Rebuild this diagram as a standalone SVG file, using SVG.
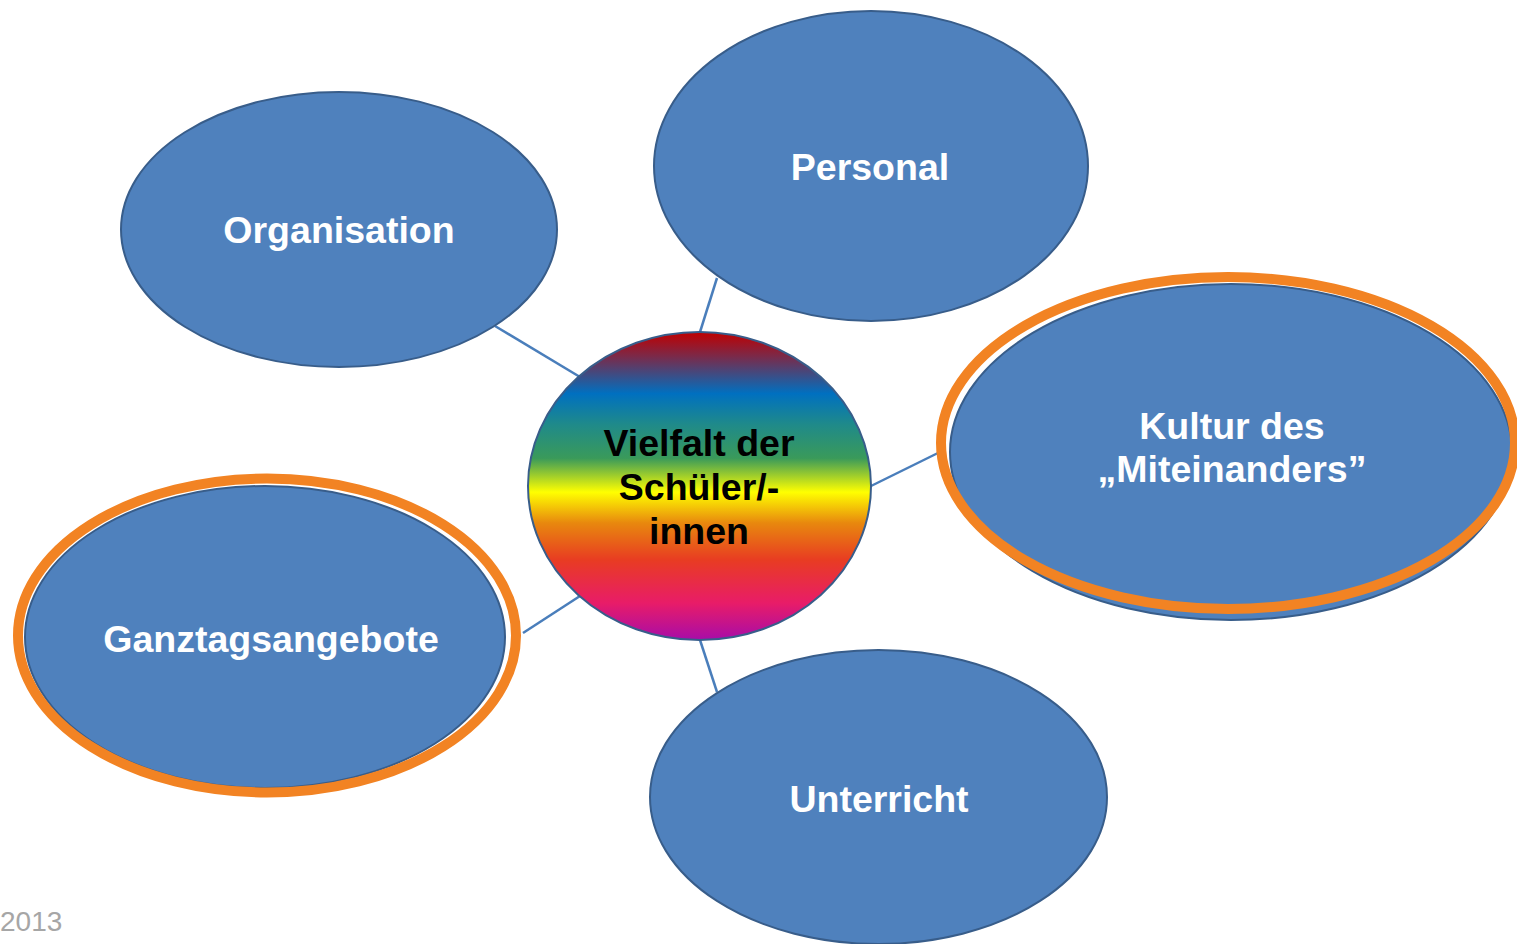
<svg xmlns="http://www.w3.org/2000/svg" width="1517" height="944" viewBox="0 0 1517 944">
<style>
.node{fill:#4f81bd;stroke:#385d8a;stroke-width:2}
.ring{fill:none;stroke:#f28323;stroke-width:10}
.lbl{font-family:"Liberation Sans",Arial,sans-serif;font-weight:bold;font-size:37.5px;fill:#ffffff;text-anchor:middle}
.ctr{fill:#000000}
.conn line{stroke:#4a7ebb;stroke-width:2.5}
</style>
<defs>
<linearGradient id="rainbow" x1="0" y1="0" x2="0" y2="1">
<stop offset="0" stop-color="#c00000"/>
<stop offset="0.08" stop-color="#7a2a4a"/>
<stop offset="0.2" stop-color="#0070c0"/>
<stop offset="0.3" stop-color="#1f8a8a"/>
<stop offset="0.41" stop-color="#3a9a5a"/>
<stop offset="0.52" stop-color="#ffff00"/>
<stop offset="0.62" stop-color="#e8880e"/>
<stop offset="0.74" stop-color="#e83c22"/>
<stop offset="0.88" stop-color="#e81c68"/>
<stop offset="1" stop-color="#a80ca8"/>
</linearGradient>
</defs>
<rect width="1517" height="944" fill="#ffffff"/>
<g id="connectors" class="conn">
<line x1="495" y1="326" x2="580" y2="377"/>
<line x1="717" y1="278" x2="700" y2="332"/>
<line x1="871" y1="486" x2="942" y2="451"/>
<line x1="523" y1="633" x2="580" y2="596"/>
<line x1="700" y1="640" x2="717" y2="692"/>
</g>
<g id="organisation">
<ellipse class="node" cx="339" cy="229.5" rx="218" ry="137.5"/>
<text class="lbl" x="339" y="243">Organisation</text>
</g>
<g id="personal">
<ellipse class="node" cx="871" cy="166" rx="217" ry="155"/>
<text class="lbl" x="870" y="180">Personal</text>
</g>
<g id="kultur">
<ellipse class="node" cx="1231" cy="452" rx="281" ry="168"/>
<ellipse class="ring" cx="1228" cy="443" rx="287" ry="166"/>
<text class="lbl" x="1232" y="439">Kultur des</text>
<text class="lbl" x="1232" y="482">„Miteinanders”</text>
</g>
<g id="ganztag">
<ellipse class="node" cx="265" cy="637" rx="240" ry="151"/>
<ellipse class="ring" cx="267" cy="635.5" rx="249" ry="157"/>
<text class="lbl" x="271" y="652">Ganztagsangebote</text>
</g>
<g id="unterricht">
<ellipse class="node" cx="878.5" cy="797" rx="228.5" ry="147"/>
<text class="lbl" x="879" y="812">Unterricht</text>
</g>
<g id="vielfalt">
<ellipse cx="699.5" cy="486" rx="171.5" ry="154" fill="url(#rainbow)" stroke="#385d8a" stroke-width="2"/>
<text class="lbl ctr" x="699" y="456">Vielfalt der</text>
<text class="lbl ctr" x="699" y="500">Schüler/-</text>
<text class="lbl ctr" x="699" y="544">innen</text>
</g>
<text x="0" y="931" font-family="'Liberation Sans',Arial,sans-serif" font-size="28" fill="#a6a6a6">2013</text>
</svg>
